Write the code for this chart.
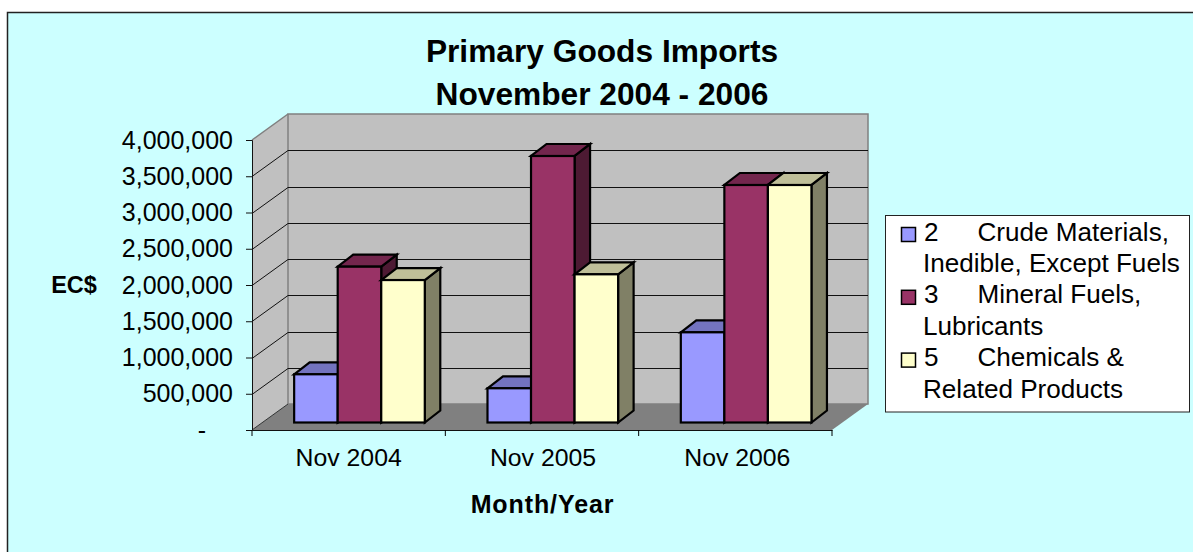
<!DOCTYPE html>
<html>
<head>
<meta charset="utf-8">
<script src="https://cdn.jsdelivr.net/npm/d3@7"></script>
<style>
  html, body { margin: 0; padding: 0; background: #fff; }
  svg { display: block; font-family: "Liberation Sans", Arial, sans-serif; }
</style>
</head>
<body>
<div id="chart"></div>
<script>
var categories = ['Nov 2004', 'Nov 2005', 'Nov 2006'];
var seriesNames = ['Crude', 'Mineral', 'Chemicals'];
var crudeValues = [665000, 472000, 1244000];
var mineralValues = [2149000, 3676000, 3276000];
var chemicalValues = [1965000, 2044000, 3276000];
var yTicks = [0, 500000, 1000000, 1500000, 2000000, 2500000, 3000000, 3500000, 4000000];
var titleLines = ['Primary Goods Imports', 'November 2004 - 2006'];
var legendLines = [
  { key: '2', text: 'Crude Materials,', color: '#9999ff' },
  { text: 'Inedible, Except Fuels' },
  { key: '3', text: 'Mineral Fuels,', color: '#993366' },
  { text: 'Lubricants' },
  { key: '5', text: 'Chemicals &', color: '#ffffcc' },
  { text: 'Related Products' }
];

var vWidth = 1193,
  vHeight = 552,
  plot = { left: 252, right: 832, top: 140, bottom: 430 },
  wallDx = 36,
  wallDy = -26,
  barDx = 15.5,
  barDy = -12,
  gapDx = 10.8,
  gapDy = -7.5;

var colors = {
  Crude: { front: '#9999ff', top: '#7373bf', side: '#5c5c99' },
  Mineral: { front: '#993366', top: '#73264d', side: '#4d1a33' },
  Chemicals: { front: '#ffffcc', top: '#bfbf99', side: '#808066' }
};

var svg = d3
  .select('#chart')
  .append('svg')
  .attr('width', vWidth)
  .attr('height', vHeight)
  .attr('viewBox', '0 0 ' + vWidth + ' ' + vHeight);

svg
  .append('rect')
  .attr('x', 7.5)
  .attr('y', 12.5)
  .attr('width', vWidth)
  .attr('height', vHeight)
  .attr('fill', '#ccffff')
  .attr('stroke', '#222')
  .attr('stroke-width', 1.5);

var x = d3
  .scaleBand()
  .domain(categories)
  .range([plot.left, plot.right]);

var xBar = d3
  .scaleBand()
  .domain(seriesNames)
  .range([0, x.bandwidth()])
  .paddingOuter(0.72)
  .paddingInner(0);

var y = d3
  .scaleLinear()
  .domain([0, 4000000])
  .range([plot.bottom, plot.top]);

function pts(arr) {
  return arr
    .map(function(p) {
      return p[0] + ',' + p[1];
    })
    .join(' ');
}

// side wall, back wall, floor
svg
  .append('polygon')
  .attr(
    'points',
    pts([
      [plot.left, plot.top],
      [plot.left + wallDx, plot.top + wallDy],
      [plot.left + wallDx, plot.bottom + wallDy],
      [plot.left, plot.bottom]
    ])
  )
  .attr('fill', '#c0c0c0');

svg
  .append('rect')
  .attr('x', plot.left + wallDx)
  .attr('y', plot.top + wallDy)
  .attr('width', plot.right - plot.left)
  .attr('height', plot.bottom - plot.top)
  .attr('fill', '#c0c0c0')
  .attr('stroke', '#808080')
  .attr('stroke-width', 1.5);

svg
  .append('polygon')
  .attr(
    'points',
    pts([
      [plot.left, plot.bottom],
      [plot.left + wallDx, plot.bottom + wallDy],
      [plot.right + wallDx, plot.bottom + wallDy],
      [plot.right, plot.bottom]
    ])
  )
  .attr('fill', '#808080');

svg
  .append('path')
  .attr(
    'd',
    'M' + plot.left + ',' + plot.top +
      'L' + (plot.left + wallDx) + ',' + (plot.top + wallDy)
  )
  .attr('stroke', '#808080')
  .attr('stroke-width', 1.5);

// gridlines run across the side wall and the back wall
var grid = svg.append('g').attr('fill', 'none').attr('stroke', '#111').attr('stroke-width', 1);

grid
  .selectAll('.grid')
  .data(yTicks.slice(1, -1))
  .enter()
  .append('path')
  .attr('class', 'grid')
  .attr('d', function(d) {
    return (
      'M' + plot.left + ',' + (Math.round(y(d)) + 0.5) +
      'L' + (plot.left + wallDx) + ',' + (Math.round(y(d) + wallDy) + 0.5) +
      'L' + (plot.right + wallDx) + ',' + (Math.round(y(d) + wallDy) + 0.5)
    );
  });

grid
  .append('path')
  .attr(
    'd',
    'M' + plot.left + ',' + plot.bottom +
      'L' + (plot.left + wallDx) + ',' + (plot.bottom + wallDy)
  )
  .attr('stroke', '#333');

// bars
var rows = [];
categories.forEach(function(c, i) {
  rows.push({ cat: c, series: 'Crude', value: crudeValues[i] });
  rows.push({ cat: c, series: 'Mineral', value: mineralValues[i] });
  rows.push({ cat: c, series: 'Chemicals', value: chemicalValues[i] });
});

var bars = svg
  .selectAll('.bar')
  .data(rows)
  .enter()
  .append('g')
  .attr('class', 'bar')
  .attr('stroke', '#000')
  .attr('stroke-width', 2.2)
  .attr('stroke-linejoin', 'miter');

function barBox(d) {
  var x0 = x(d.cat) + xBar(d.series) + gapDx;
  return {
    x0: x0,
    x1: x0 + xBar.bandwidth(),
    yTop: y(d.value) + gapDy,
    yBase: y(0) + gapDy
  };
}

bars
  .append('polygon')
  .attr('points', function(d) {
    var b = barBox(d);
    return pts([
      [b.x1, b.yTop],
      [b.x1 + barDx, b.yTop + barDy],
      [b.x1 + barDx, b.yBase + barDy],
      [b.x1, b.yBase]
    ]);
  })
  .attr('fill', function(d) {
    return colors[d.series].side;
  });

bars
  .append('polygon')
  .attr('points', function(d) {
    var b = barBox(d);
    return pts([
      [b.x0, b.yTop],
      [b.x0 + barDx, b.yTop + barDy],
      [b.x1 + barDx, b.yTop + barDy],
      [b.x1, b.yTop]
    ]);
  })
  .attr('fill', function(d) {
    return colors[d.series].top;
  });

bars
  .append('rect')
  .attr('x', function(d) {
    return barBox(d).x0;
  })
  .attr('y', function(d) {
    return barBox(d).yTop;
  })
  .attr('width', xBar.bandwidth())
  .attr('height', function(d) {
    var b = barBox(d);
    return b.yBase - b.yTop;
  })
  .attr('fill', function(d) {
    return colors[d.series].front;
  });

// axes
var yAxis = svg
  .append('g')
  .attr('transform', 'translate(' + plot.left + ',0)')
  .call(
    d3
      .axisLeft(y)
      .tickValues(yTicks)
      .tickSize(6)
      .tickPadding(13)
      .tickFormat(function(d) {
        return d === 0 ? '-' : d3.format(',')(d);
      })
  );

var xAxis = svg
  .append('g')
  .attr('transform', 'translate(0,' + plot.bottom + ')')
  .call(
    d3
      .axisBottom(x)
      .tickSize(0)
      .tickPadding(18)
  );

// category ticks sit on the band edges, not the centres
xAxis
  .selectAll('.edge')
  .data(categories.concat(['end']))
  .enter()
  .append('line')
  .attr('class', 'edge')
  .attr('stroke', '#000')
  .attr('x1', function(d) {
    return d === 'end' ? plot.right : x(d);
  })
  .attr('x2', function(d) {
    return d === 'end' ? plot.right : x(d);
  })
  .attr('y1', 0)
  .attr('y2', 6);

svg.selectAll('.domain').attr('stroke', '#111');
yAxis.selectAll('.tick text').style('font-size', '25px').attr('fill', '#000');
yAxis.selectAll('.tick line').attr('stroke', '#111');
xAxis
  .selectAll('.tick text')
  .style('font-size', '24.8px')
  .attr('fill', '#000')
  .attr('dx', function(d, i) {
    return i;
  });

// the zero label is set in from the right edge in the original
yAxis
  .selectAll('.tick text')
  .filter(function(d) {
    return d === 0;
  })
  .attr('x', -46);

// titles
svg
  .selectAll('.title')
  .data(titleLines)
  .enter()
  .append('text')
  .attr('class', 'title')
  .attr('x', 602)
  .attr('y', function(d, i) {
    return 62 + i * 43;
  })
  .attr('text-anchor', 'middle')
  .style('font-size', '31.7px')
  .style('font-weight', 'bold')
  .text(function(d) {
    return d;
  });

svg
  .append('text')
  .attr('x', 74)
  .attr('y', 292.5)
  .attr('text-anchor', 'middle')
  .style('font-size', '23.5px')
  .style('font-weight', 'bold')
  .text('EC$');

svg
  .append('text')
  .attr('x', 542.5)
  .attr('y', 513)
  .attr('text-anchor', 'middle')
  .style('font-size', '25px')
  .style('letter-spacing', '0.9px')
  .style('font-weight', 'bold')
  .text('Month/Year');

// legend
var legend = svg.append('g');

legend
  .append('rect')
  .attr('x', 885.5)
  .attr('y', 215.5)
  .attr('width', 304)
  .attr('height', 196.5)
  .attr('fill', '#fff')
  .attr('stroke', '#222')
  .attr('stroke-width', 1);

var legendRow = legend
  .selectAll('.legend-row')
  .data(legendLines)
  .enter()
  .append('g')
  .attr('class', 'legend-row')
  .attr('transform', function(d, i) {
    return 'translate(0,' + (240.5 + i * 31.4) + ')';
  })
  .style('font-size', '26.1px');

legendRow
  .filter(function(d) {
    return d.key;
  })
  .append('rect')
  .attr('x', 901.5)
  .attr('y', -13)
  .attr('width', 14)
  .attr('height', 14)
  .attr('fill', function(d) {
    return d.color;
  })
  .attr('stroke', '#000')
  .attr('stroke-width', 1.5);

legendRow
  .filter(function(d) {
    return d.key;
  })
  .append('text')
  .attr('x', 924)
  .text(function(d) {
    return d.key;
  });

legendRow
  .append('text')
  .attr('x', function(d) {
    return d.key ? 977.5 : 923;
  })
  .text(function(d) {
    return d.text;
  });
</script>
</body>
</html>
